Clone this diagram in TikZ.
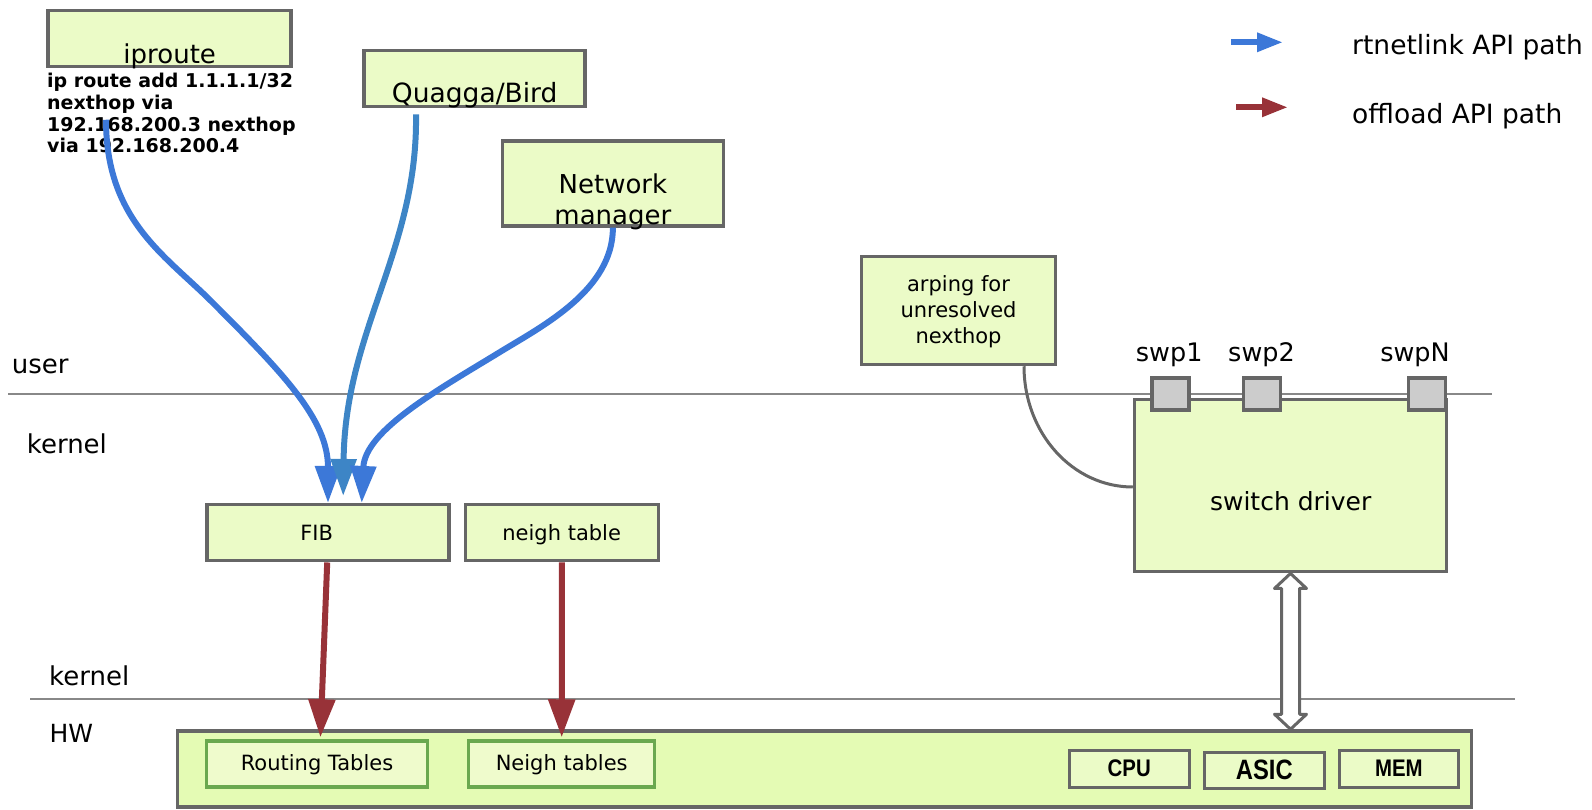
\documentclass[tikz,border=0pt]{standalone}
\usepackage{fontspec}
\setmainfont{DejaVu Sans}
\newfontfamily\arialfont[FakeStretch=0.85]{Liberation Sans}
\usetikzlibrary{arrows.meta,calc}
\definecolor{boxfill}{HTML}{EBFBC7}
\definecolor{hwfill}{HTML}{E4FBB4}
\definecolor{rtfill}{HTML}{EFFBCC}
\definecolor{rtborder}{HTML}{6AA84F}
\definecolor{bgray}{HTML}{666666}
\definecolor{lgray}{HTML}{888888}
\definecolor{blueA}{HTML}{3C78D8}
\definecolor{blueB}{HTML}{3D85C6}
\definecolor{redA}{HTML}{983238}
\definecolor{portfill}{HTML}{CCCCCC}
\begin{document}
\begin{tikzpicture}[x=1pt,y=-1pt,
 box/.style={draw=bgray,fill=boxfill,line width=3.5pt,inner sep=0pt},
 rtbox/.style={draw=rtborder,fill=rtfill,line width=3.5pt,inner sep=0pt},
 hwbox/.style={draw=bgray,fill=hwfill,line width=3.5pt,inner sep=0pt},
 port/.style={draw=bgray,fill=portfill,line width=3.5pt,inner sep=0pt,minimum width=37pt,minimum height=32pt},
 lbl/.style={inner sep=0pt,anchor=base},
 lblw/.style={inner sep=0pt,anchor=base west},
 hline/.style={draw=lgray,line width=2pt},
 bluearr/.style={draw=blueA,line width=6pt,-{Triangle[length=37pt,width=25pt]}},
 redarr/.style={draw=redA,line width=6pt,-{Triangle[length=38pt,width=26pt]}},
 fa/.style={font=\fontsize{26}{31.5}\selectfont},
 fb/.style={font=\fontsize{21}{25.8}\selectfont},
 fhw/.style={font=\arialfont\bfseries\fontsize{24}{28}\selectfont},
]
\useasboundingbox (0,0) rectangle (1592,810);
% separator lines
\coordinate (u1) at (8,394); \coordinate (u2) at (1492,394);
\coordinate (k1) at (30,699); \coordinate (k2) at (1515,699);
\draw[hline] (u1) -- (u2);
\draw[hline] (k1) -- (k2);
% layer labels
\node[lblw,fa] (luser) at (11.7,373.3) {user};
\node[lblw,fa] (lkern) at (26.7,453.3) {kernel};
\node[lblw,fa] (lkern2) at (49,685) {kernel};
\node[lblw,font=\fontsize{25}{30}\selectfont] (lhw) at (49.3,742.7) {HW};
% user space boxes
\node[box,minimum width=243pt,minimum height=56pt] (iproute) at (169.7,38.7) {};
\node[lbl,fa] (tiproute) at (169.7,63.3) {iproute};
\node[inner sep=0pt,anchor=north west,align=left,font=\bfseries\fontsize{19}{21.8}\selectfont] (cmd) at (47,72.9)
  {ip route add 1.1.1.1/32\\nexthop via\\192.168.200.3 nexthop\\via 192.168.200.4};
\node[box,minimum width=221pt,minimum height=56pt] (quagga) at (474.7,78.7) {};
\node[lbl,font=\fontsize{26.5}{30}\selectfont] (tquagga) at (474.7,102.7) {Quagga/Bird};
\node[box,minimum width=221pt,minimum height=85pt] (netman) at (612.9,183.4) {};
\node[inner sep=0pt,anchor=north,align=center,fa] (tnetman) at (612.9,173.5) {Network\\manager};
\node[box,minimum width=194pt,minimum height=108pt] (arping) at (958.5,310.5) {};
\node[inner sep=0pt,anchor=north,align=center,fb] (tarping) at (958.5,275.7) {arping for\\unresolved\\nexthop};
% kernel boxes
\node[box,minimum width=242pt,minimum height=56pt] (fib) at (328.2,532.7) {};
\node[lbl,fb] (tfib) at (316.7,540) {FIB};
\node[box,minimum width=193pt,minimum height=56pt] (neigh) at (561.9,532.7) {};
\node[lbl,fb] (tneigh) at (561.7,540) {neigh table};
\node[box,minimum width=312pt,minimum height=172pt] (drv) at (1290.5,485.7) {};
\node[lbl,font=\fontsize{25}{30}\selectfont] (tdrv) at (1290.7,510) {switch driver};
\node[port] (p1) at (1170.7,394.2) {};
\node[port] (p2) at (1262,394.2) {};
\node[port] (pn) at (1427.2,394.2) {};
\node[lbl,font=\fontsize{25.5}{30}\selectfont] (tp1) at (1169.2,361.7) {swp1};
\node[lbl,font=\fontsize{25.5}{30}\selectfont] (tp2) at (1261.5,361.7) {swp2};
\node[lbl,font=\fontsize{25.5}{30}\selectfont] (tpn) at (1415,361.7) {swpN};
% hardware
\node[hwbox,minimum width=1294pt,minimum height=76pt] (hw) at (824.4,769) {};
\node[rtbox,minimum width=221pt,minimum height=46pt] (rt) at (317.1,764) {};
\node[lbl,fb] (trt) at (317,770) {Routing Tables};
\node[rtbox,minimum width=186pt,minimum height=46pt] (nt) at (561.7,764) {};
\node[lbl,fb] (tnt) at (561.7,770) {Neigh tables};
\node[box,minimum width=120pt,minimum height=37pt] (cpu) at (1129.5,769) {};
\node[lbl,fhw] (tcpu) at (1129.2,776) {CPU};
\node[box,minimum width=120pt,minimum height=36pt] (asic) at (1264.5,770.3) {};
\node[lbl,font=\arialfont\bfseries\fontsize{28}{32}\selectfont] (tasic) at (1264.3,779) {ASIC};
\node[box,minimum width=119pt,minimum height=37pt] (mem) at (1398.9,769) {};
\node[lbl,fhw] (tmem) at (1398.8,776) {MEM};
% rtnetlink arrows
\draw[bluearr] ([xshift=-63.7pt,yshift=-51.3pt]iproute.south)
  .. controls (106,220) and (165,255) .. (212,302)
  .. controls (285,375) and (328,420) .. ([xshift=-0.2pt]fib.north);
\draw[bluearr,draw=blueB] ([xshift=-58.7pt,yshift=-6pt]quagga.south)
  .. controls (418,250) and (345,330) .. ([xshift=15pt,yshift=7pt]fib.north);
\draw[bluearr] (netman.south)
  .. controls (613,290) and (542.5,326) .. (500,352)
  .. controls (440.5,388.4) and (365,430) .. ([xshift=33.5pt]fib.north);
% offload arrows
\draw[redarr] ([xshift=-1pt]fib.south) -- ([xshift=3.3pt,yshift=2pt]rt.north);
\draw[redarr] (neigh.south) -- ([yshift=2pt]nt.north);
% arping link
\draw[draw=bgray,line width=3pt] ([xshift=65.5pt]arping.south) .. controls +(0,67) and +(-60,0) .. ([yshift=-1.3pt]drv.west);
% driver <-> hw double arrow
\coordinate (dtop) at (drv.south);
\coordinate (dbot) at (drv.south |- hw.north);
\draw[draw=bgray,fill=white,line width=3pt,line join=round]
  (dtop) -- ++(16,15) -- ++(-7,0) -- ($(dbot)+(9,-15)$) -- ++(7,0) -- (dbot)
  -- ++(-16,-15) -- ++(7,0) -- ($(dtop)+(-9,15)$) -- ++(-7,0) -- cycle;
% legend
\coordinate (lb1) at (1231,42.3); \coordinate (lb2) at (1283,42.3);
\coordinate (lr1) at (1236,107.3); \coordinate (lr2) at (1288,107.3);
\draw[draw=blueA,line width=6pt,-{Triangle[length=26pt,width=18pt]}] (lb1) -- (lb2);
\draw[draw=redA,line width=6pt,-{Triangle[length=26pt,width=18pt]}] (lr1) -- (lr2);
\node[lblw,font=\fontsize{26.5}{30}\selectfont] (tlb) at (1352,55) {rtnetlink API path};
\node[lblw,font=\fontsize{26.5}{30}\selectfont] (tlr) at (1352,124) {offload API path};
\end{tikzpicture}
\end{document}
